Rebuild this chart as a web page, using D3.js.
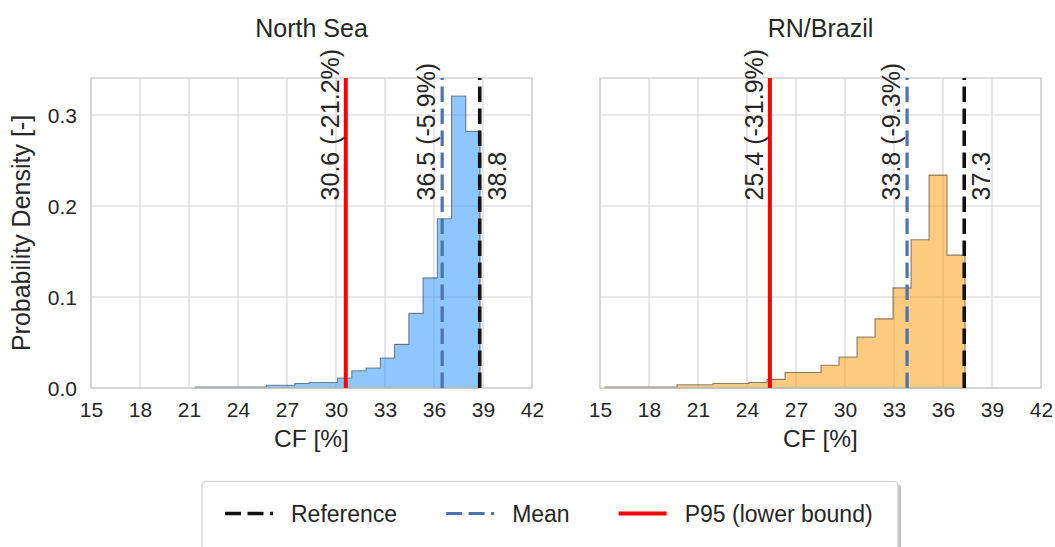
<!DOCTYPE html>
<html>
<head>
<meta charset="utf-8">
<script src="https://cdn.jsdelivr.net/npm/d3@7"></script>
<style>
  body { margin: 0; background: #fff; }
  text { font-family: "Liberation Sans", Arial, sans-serif; fill: #262626; }
</style>
</head>
<body>
<div id="chart"></div>
<script>
// data
var regions = ["North Sea", "RN/Brazil"];
var binRange = [[21.37, 38.82], [15.3, 37.35]];   // histogram min / max, 20 bins each
var nsDensity = [0.001, 0.001, 0.001, 0.001, 0.001, 0.003, 0.003, 0.005, 0.006, 0.006,
                 0.011, 0.019, 0.022, 0.033, 0.048, 0.082, 0.121, 0.186, 0.321, 0.282];
var brDensity = [0.001, 0.001, 0.001, 0.001, 0.0036, 0.0036, 0.005, 0.005, 0.006, 0.0095,
                 0.017, 0.017, 0.025, 0.034, 0.056, 0.076, 0.110, 0.163, 0.234, 0.146];
var refValues = [38.8, 37.3];
var meanValues = [36.5, 33.8];
var p95Values = [30.6, 25.4];
var meanPct = ["-5.9%", "-9.3%"];
var p95Pct = ["-21.2%", "-31.9%"];
var xTicks = [15, 18, 21, 24, 27, 30, 33, 36, 39, 42];
var yTicks = [0.0, 0.1, 0.2, 0.3];
var legendLabels = ["Reference", "Mean", "P95 (lower bound)"];

var densities = [nsDensity, brDensity];
var fills = ["#1e90ff", "#f99700"];
var colRef = "#111", colMean = "#4c72b0", colP95 = "#ff0000";

var W = 1055, H = 547;
var panelLeft = [91, 600], panelW = 441;
var plotTop = 78, plotBottom = 388;

var svg = d3.select("#chart").append("svg")
  .attr("width", W).attr("height", H);

var y = d3.scaleLinear().domain([0, 0.3407]).range([plotBottom, plotTop]);

regions.forEach(function(name, i){
  var x = d3.scaleLinear().domain([15, 42]).range([panelLeft[i], panelLeft[i] + panelW]);
  var g = svg.append("g");

  // grid
  g.selectAll(".vg").data(xTicks).enter().append("line")
    .attr("x1", x).attr("x2", x).attr("y1", plotTop).attr("y2", plotBottom)
    .attr("stroke", "#d4d4d4").attr("stroke-width", 1.1);
  g.selectAll(".hg").data(yTicks).enter().append("line")
    .attr("x1", x(15)).attr("x2", x(42)).attr("y1", y).attr("y2", y)
    .attr("stroke", "#d4d4d4").attr("stroke-width", 1.1);

  // histogram (stepfilled)
  var dens = densities[i];
  var lo = binRange[i][0], hi = binRange[i][1], bw = (hi - lo) / dens.length;
  var pts = dens.map(function(d, k){ return [lo + k * bw, d]; });
  pts.push([hi, dens[dens.length - 1]]);
  var area = d3.area().curve(d3.curveStepAfter)
    .x(function(d){ return x(d[0]); }).y0(y(0)).y1(function(d){ return y(d[1]); });
  g.append("path").datum(pts).attr("d", area)
    .attr("fill", fills[i]).attr("fill-opacity", 0.5)
    .attr("stroke", "#000").attr("stroke-opacity", 0.45).attr("stroke-width", 1.1);

  // frame
  g.append("rect").attr("x", x(15)).attr("y", plotTop)
    .attr("width", panelW).attr("height", plotBottom - plotTop)
    .attr("fill", "none").attr("stroke", "#cccccc").attr("stroke-width", 1.3);

  // vertical markers, drawn bottom -> top
  function vline(v, col, w, dash){
    g.append("line").attr("x1", x(v)).attr("x2", x(v)).attr("y1", y(0)).attr("y2", plotTop)
      .attr("stroke", col).attr("stroke-width", w)
      .attr("stroke-dasharray", dash || null);
  }
  vline(p95Values[i], colP95, 4);
  vline(meanValues[i], colMean, 3.2, "15.5,6.5");
  vline(refValues[i], colRef, 3.6, "15.5,6.5");

  var ly = y(0.2062);
  function vlabel(v, txt, dx){
    g.append("text")
      .attr("transform", "translate(" + (x(v) + dx) + "," + ly + ") rotate(-90)")
      .attr("font-size", 25).text(txt);
  }
  vlabel(p95Values[i], d3.format(".1f")(p95Values[i]) + " (" + p95Pct[i] + ")", -7);
  vlabel(meanValues[i], d3.format(".1f")(meanValues[i]) + " (" + meanPct[i] + ")", -7);
  vlabel(refValues[i], d3.format(".1f")(refValues[i]), 26);

  // axes
  var xa = g.append("g").attr("transform", "translate(0," + plotBottom + ")")
    .call(d3.axisBottom(x).tickValues(xTicks).tickSize(0).tickFormat(d3.format("d")));
  xa.attr("font-size", 21).attr("font-family", null);
  xa.select(".domain").remove();
  xa.selectAll("text").attr("y", 29).attr("dy", 0).attr("fill", "#262626");

  if (i === 0) {
    var ya = g.append("g").attr("transform", "translate(" + x(15) + ",0)")
      .call(d3.axisLeft(y).tickValues(yTicks).tickSize(0).tickFormat(d3.format(".1f")));
    ya.attr("font-size", 21).attr("font-family", null);
    ya.select(".domain").remove();
    ya.selectAll("text").attr("x", -14).attr("dy", "0.35em").attr("fill", "#262626");
    g.append("text")
      .attr("transform", "translate(30," + ((plotTop + plotBottom) / 2) + ") rotate(-90)")
      .attr("text-anchor", "middle").attr("font-size", 25)
      .text("Probability Density [-]");
  }

  g.append("text").attr("x", x(28.5)).attr("y", 447)
    .attr("text-anchor", "middle").attr("font-size", 24.5).text("CF [%]");
  g.append("text").attr("x", x(28.5)).attr("y", 37)
    .attr("text-anchor", "middle").attr("font-size", 25).text(name);
});

// legend
var leg = svg.append("g");
var legStyles = [
  {col: colRef, w: 3.6, dash: "16,6.5"},
  {col: colMean, w: 3.2, dash: "16,6.5"},
  {col: colP95, w: 4, dash: null}
];
leg.append("rect").attr("x", 204).attr("y", 484).attr("width", 697).attr("height", 80)
  .attr("rx", 4).attr("fill", "#999").attr("fill-opacity", 0.6);
leg.append("rect").attr("x", 202).attr("y", 481.5).attr("width", 696).attr("height", 80)
  .attr("rx", 4).attr("fill", "#fff").attr("stroke", "#cccccc").attr("stroke-width", 1.2);

var cx = 225, ly2 = 513.5;
legendLabels.forEach(function(lbl, k){
  var s = legStyles[k];
  leg.append("line").attr("x1", cx).attr("x2", cx + 48).attr("y1", ly2).attr("y2", ly2)
    .attr("stroke", s.col).attr("stroke-width", s.w).attr("stroke-dasharray", s.dash);
  var t = leg.append("text").attr("x", cx + 66).attr("y", ly2 + 8.5)
    .attr("font-size", 23).text(lbl);
  cx = cx + 66 + t.node().getComputedTextLength() + 49;
});
</script>
</body>
</html>
